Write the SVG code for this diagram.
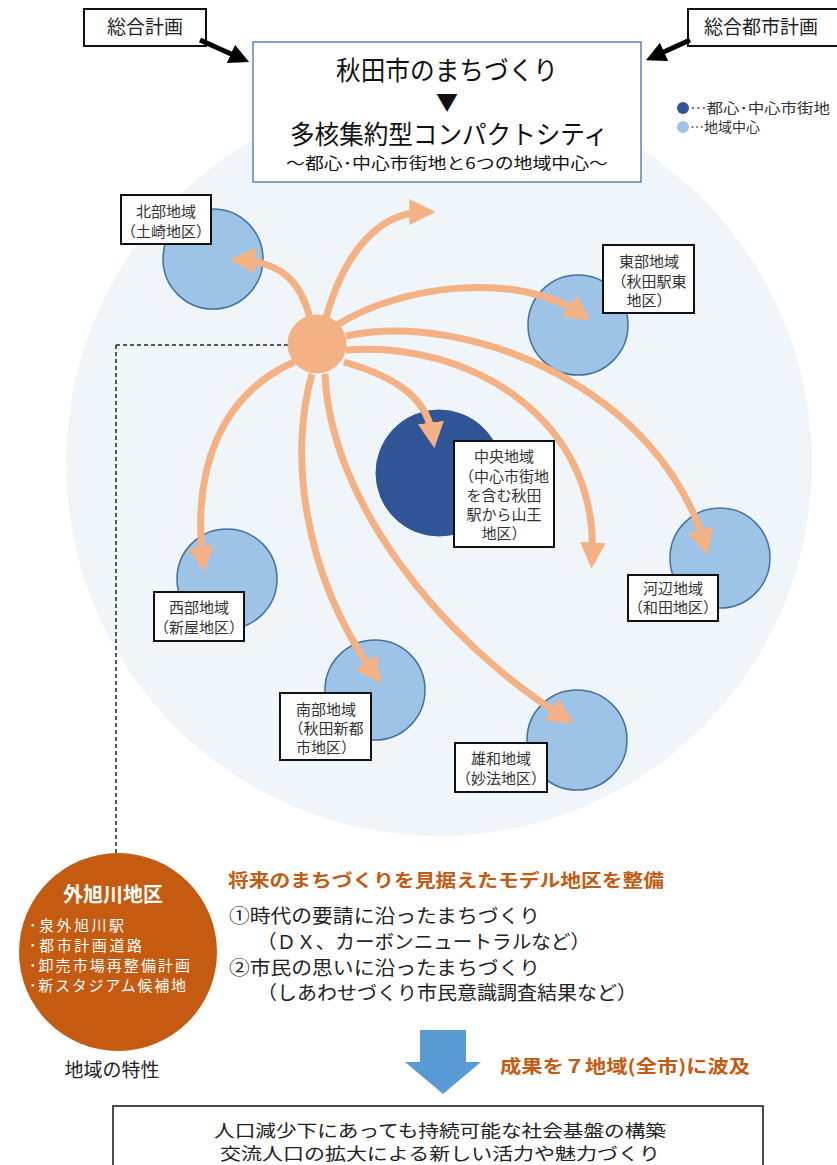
<svg xmlns="http://www.w3.org/2000/svg" width="837" height="1165" viewBox="0 0 837 1165">
<defs>
<style>
text{font-family:"Noto Sans CJK JP","Noto Sans",sans-serif;}
.lbl{font-size:15px;fill:#333;text-anchor:middle;}
.lbox{fill:#fff;stroke:#111;stroke-width:2;}
.lc{fill:#9dc3e6;stroke:#41719c;stroke-width:1.5;}
.arr{fill:none;stroke:#f4b183;stroke-width:7;marker-end:url(#oh);}
.blk{fill:none;stroke:#000;stroke-width:5;marker-end:url(#bh);}
.body{font-size:19px;fill:#222;}
.org{font-size:18px;fill:#c55a11;font-weight:bold;}
.wt{fill:#fff;font-size:15px;}
</style>
<marker id="oh" viewBox="0 0 10 10" refX="6" refY="5" markerWidth="26" markerHeight="26" markerUnits="userSpaceOnUse" orient="auto"><path d="M0,0 L10,5 L0,10 z" fill="#f4b183"/></marker>
<marker id="bh" viewBox="0 0 10 10" refX="5" refY="5" markerWidth="20" markerHeight="20" markerUnits="userSpaceOnUse" orient="auto"><path d="M0,0 L10,5 L0,10 z" fill="#000"/></marker>
</defs>
<rect width="837" height="1165" fill="#fff"/>
<circle cx="439" cy="463" r="373" fill="#f0f5fa"/>

<g id="box-sogo">
<rect x="84" y="9" width="122" height="37" class="lbox"/>
<text x="145" y="34" font-size="19" text-anchor="middle" fill="#222">総合計画</text>
</g>
<g id="box-toshi">
<rect x="688" y="9" width="150" height="37" class="lbox"/>
<text x="761" y="34" font-size="19" text-anchor="middle" fill="#222">総合都市計画</text>
</g>

<g id="legend">
<circle cx="683" cy="108" r="6" fill="#2f5597"/>
<text x="690" y="113" font-size="14" fill="#333" textLength="140" lengthAdjust="spacingAndGlyphs">…都心･中心市街地</text>
<circle cx="683" cy="127" r="6" fill="#9dc3e6"/>
<text x="690" y="132" font-size="14" fill="#333">…地域中心</text>
</g>

<g id="north"><circle cx="213" cy="259" r="50" class="lc"/></g>
<g id="east"><circle cx="578" cy="325" r="50" class="lc"/></g>
<g id="chuo"><circle cx="439" cy="473" r="63" fill="#2f5597" stroke="#2f5597"/></g>
<g id="kawabe"><circle cx="720" cy="558" r="50" class="lc"/></g>
<g id="seibu"><circle cx="227" cy="579" r="50" class="lc"/></g>
<g id="nanbu"><circle cx="375" cy="690" r="50" class="lc"/></g>
<g id="yuwa"><circle cx="577" cy="740" r="50" class="lc"/></g>

<g id="connectors">
<path class="blk" d="M200 40 L240 58"/>
<path class="blk" d="M690 40 L655 56"/>
<path d="M116 345 L304 345 M116 345 L116 853" fill="none" stroke="#222" stroke-width="1.5" stroke-dasharray="4,3"/>
<path class="arr" d="M310 318 C300 280 280 262 240 260"/>
<path class="arr" d="M326 318 C345 250 380 212 425 212"/>
<path class="arr" d="M337 325 C400 285 520 270 582 315"/>
<path class="arr" d="M346 336 C470 310 660 390 705 545"/>
<path class="arr" d="M346 350 C470 340 600 420 592 558"/>
<path class="arr" d="M344 362 C400 378 428 400 433 438"/>
<path class="arr" d="M325 374 C330 500 440 640 565 718"/>
<path class="arr" d="M312 374 C290 450 300 570 375 675"/>
<path class="arr" d="M294 362 C220 395 192 470 203 562"/>
</g>

<g id="hub"><circle cx="317" cy="344" r="29.5" fill="#f4b183"/></g>

<g id="main">
<rect x="253" y="42" width="388" height="140" fill="#fff" stroke="#5b85b5" stroke-width="1.5"/>
<text x="447" y="80" font-size="26" text-anchor="middle" fill="#111" textLength="222" lengthAdjust="spacingAndGlyphs">秋田市のまちづくり</text>
<text x="447" y="110" font-size="22" text-anchor="middle" fill="#111">▼</text>
<text x="449" y="144" font-size="26" text-anchor="middle" fill="#111" textLength="318" lengthAdjust="spacingAndGlyphs">多核集約型コンパクトシティ</text>
<text x="447" y="169" font-size="16" text-anchor="middle" fill="#111" textLength="322" lengthAdjust="spacingAndGlyphs">～都心･中心市街地と6つの地域中心～</text>
</g>

<g id="north-label">
<rect x="121" y="195" width="90" height="49" class="lbox"/>
<text class="lbl" x="166" y="217">北部地域</text>
<text class="lbl" x="166" y="237">（土崎地区）</text>
</g>
<g id="east-label">
<rect x="603" y="245" width="91" height="68" class="lbox"/>
<text class="lbl" x="649" y="267">東部地域</text>
<text class="lbl" x="649" y="287">（秋田駅東</text>
<text class="lbl" x="649" y="306">地区）</text>
</g>
<g id="chuo-label">
<rect x="454" y="441" width="100" height="106" class="lbox"/>
<text class="lbl" x="504" y="462">中央地域</text>
<text class="lbl" x="504" y="482">（中心市街地</text>
<text class="lbl" x="504" y="501">を含む秋田</text>
<text class="lbl" x="504" y="520">駅から山王</text>
<text class="lbl" x="504" y="539">地区）</text>
</g>
<g id="kawabe-label">
<rect x="628" y="575" width="90" height="46" class="lbox"/>
<text class="lbl" x="673" y="594">河辺地域</text>
<text class="lbl" x="673" y="613">（和田地区）</text>
</g>
<g id="seibu-label">
<rect x="154" y="592" width="90" height="49" class="lbox"/>
<text class="lbl" x="199" y="613">西部地域</text>
<text class="lbl" x="199" y="633">（新屋地区）</text>
</g>
<g id="nanbu-label">
<rect x="280" y="693" width="91" height="67" class="lbox"/>
<text class="lbl" x="326" y="715">南部地域</text>
<text class="lbl" x="326" y="734">（秋田新都</text>
<text class="lbl" x="326" y="753">市地区）</text>
</g>
<g id="yuwa-label">
<rect x="455" y="743" width="92" height="49" class="lbox"/>
<text class="lbl" x="501" y="764">雄和地域</text>
<text class="lbl" x="501" y="784">（妙法地区）</text>
</g>

<g id="sotoasahikawa">
<circle cx="118" cy="952" r="99" fill="#c55a11"/>
<text x="113" y="902" font-size="20" font-weight="bold" fill="#fff" text-anchor="middle">外旭川地区</text>
<text class="wt" x="29" y="931" textLength="95" lengthAdjust="spacing">･泉外旭川駅</text>
<text class="wt" x="29" y="951" textLength="113" lengthAdjust="spacing">･都市計画道路</text>
<text class="wt" x="29" y="971" textLength="161" lengthAdjust="spacing">･卸売市場再整備計画</text>
<text class="wt" x="29" y="991" textLength="157" lengthAdjust="spacing">･新スタジアム候補地</text>
<text x="112" y="1077" font-size="19" fill="#222" text-anchor="middle">地域の特性</text>
</g>

<g id="model">
<text class="org" x="228" y="887" textLength="436" lengthAdjust="spacingAndGlyphs">将来のまちづくりを見据えたモデル地区を整備</text>
<text class="body" x="229" y="923" textLength="311" lengthAdjust="spacingAndGlyphs">①時代の要請に沿ったまちづくり</text>
<text class="body" x="257" y="949" textLength="333" lengthAdjust="spacingAndGlyphs">（ＤＸ、カーボンニュートラルなど）</text>
<text class="body" x="229" y="975" textLength="311" lengthAdjust="spacingAndGlyphs">②市民の思いに沿ったまちづくり</text>
<text class="body" x="257" y="1000" textLength="380" lengthAdjust="spacingAndGlyphs">（しあわせづくり市民意識調査結果など）</text>
</g>

<g id="spread">
<path d="M420 1030 L466 1030 L466 1062 L481 1062 L443 1094 L405 1062 L420 1062 Z" fill="#5b9bd5"/>
<text class="org" x="500" y="1073" textLength="250" lengthAdjust="spacingAndGlyphs">成果を７地域(全市)に波及</text>
</g>

<g id="result">
<rect x="113" y="1106" width="650" height="70" fill="#fff" stroke="#111" stroke-width="1.5"/>
<text x="440" y="1137" font-size="17.5" fill="#222" text-anchor="middle" textLength="452" lengthAdjust="spacingAndGlyphs">人口減少下にあっても持続可能な社会基盤の構築</text>
<text x="440" y="1160" font-size="17.5" fill="#222" text-anchor="middle" textLength="440" lengthAdjust="spacingAndGlyphs">交流人口の拡大による新しい活力や魅力づくり</text>
</g>
</svg>
